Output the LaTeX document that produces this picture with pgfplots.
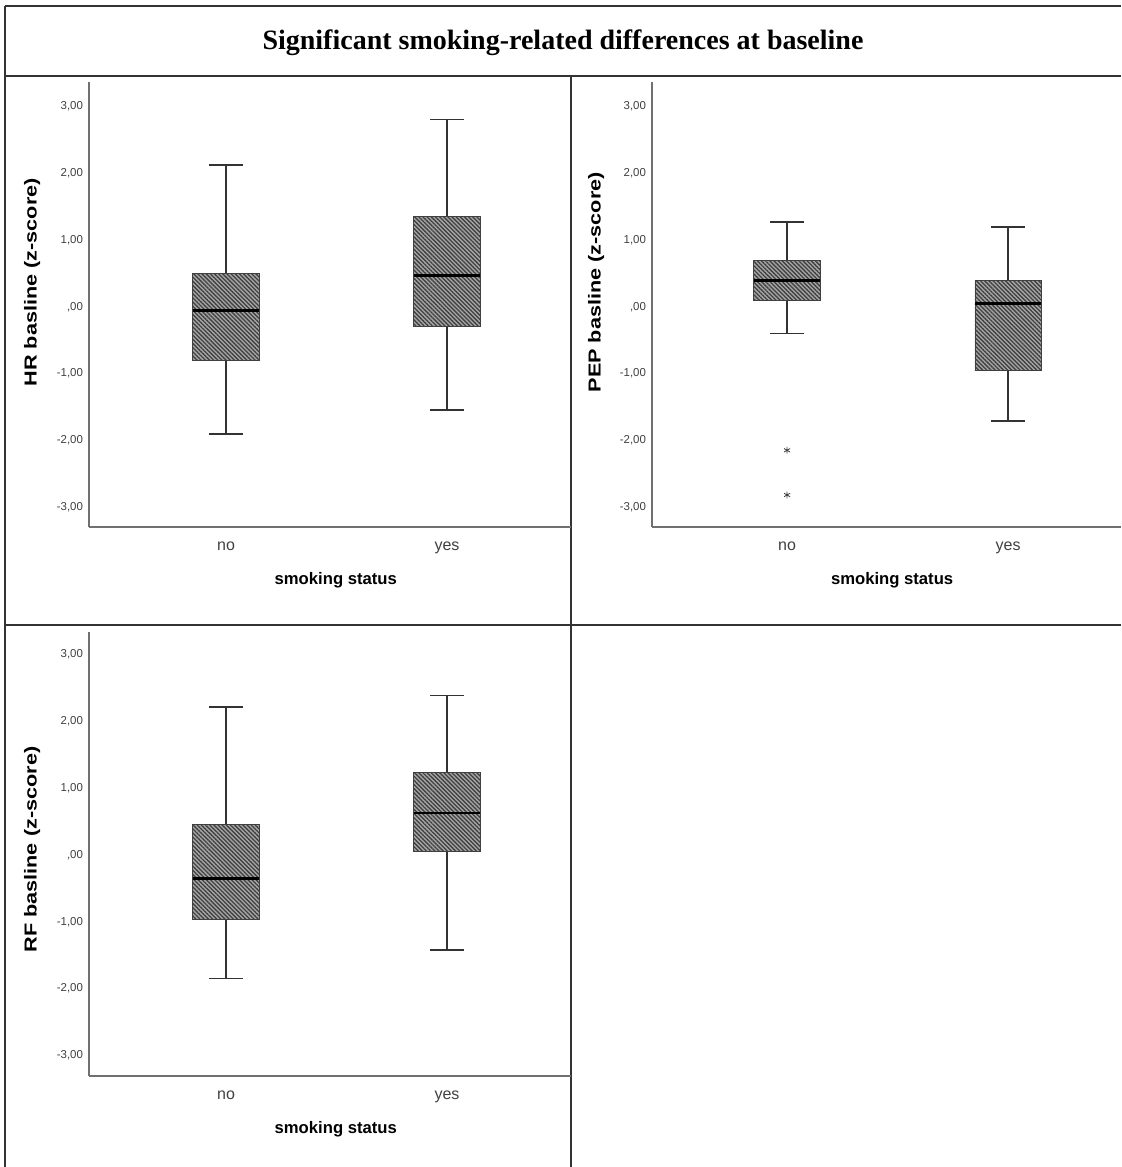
\documentclass[border=0pt]{standalone}
\usepackage{fontspec}
\setmainfont{Liberation Sans}
\newfontfamily\titlefont{Liberation Serif}
\usepackage{graphicx}
\usepackage{pgfplots}
\pgfplotsset{compat=1.18}
\usepgfplotslibrary{statistics}
\usetikzlibrary{patterns.meta}

\definecolor{framec}{HTML}{333333}
\definecolor{axc}{HTML}{707070}
\definecolor{tickc}{HTML}{404040}

\pgfplotsset{
 spssbox/.style={
  scale only axis, anchor=south west,
  axis x line*=bottom, axis y line*=left,
  axis line style={axc, line width=0.8pt, -},
  major tick length=0pt,
  xtick={1,2}, xticklabels={no,yes},
  ytick={-3,-2,-1,0,1,2,3},
  yticklabels={{-3,00},{-2,00},{-1,00},{,00},{1,00},{2,00},{3,00}},
  y tick label style={font=\fontsize{8.6}{10}\selectfont, text=tickc, anchor=east, xshift=-1pt},
  x tick label style={font=\fontsize{12}{14}\selectfont, text=tickc, anchor=base, yshift=-17.5pt},
  xlabel={smoking status},
  xlabel style={font=\bfseries\fontsize{12.5}{15}\selectfont, at={(axis description cs:0.512,0)}, anchor=base, yshift=-43pt},
  ylabel style={font=\bfseries\fontsize{13}{15}\selectfont, at={(axis description cs:-0.118,0.55)}, anchor=center},
  clip=false,
  boxplot/draw direction=y,
  boxplot/box extend=0.3,
  boxplot/whisker extend=0.15,
  boxplot/every box/.style={draw=black!75, line width=0.6pt, fill=gray!70, postaction={pattern={Lines[angle=-45,distance=2.2pt,line width=1pt]}, pattern color=black!75}},
  boxplot/every median/.style={black, line width=2pt},
  boxplot/every whisker/.style={black!80, line width=1.2pt},
 }
}

\begin{document}
\begin{tikzpicture}
\useasboundingbox (0,0) rectangle (840.75pt,-875.25pt);
\begin{scope}[x=0.75pt,y=-0.75pt]
\draw[framec, line width=1.4pt] (5,6) -- (1121,6);
\draw[framec, line width=1.4pt] (5,6) -- (5,1167);
\draw[framec, line width=1.4pt] (5,76) -- (1121,76);
\draw[framec, line width=1.4pt] (571,76) -- (571,1167);
\draw[framec, line width=1.4pt] (5,625) -- (1121,625);
\node[font=\titlefont\bfseries\fontsize{21}{24}\selectfont] at (563,43) {Significant smoking-related differences at baseline};
\end{scope}

% Panel 1: HR
\begin{axis}[spssbox, at={(66.75pt,-395.25pt)}, width=361.5pt, height=333.75pt,
  xmin=0.38, xmax=2.561, ymin=-3.30, ymax=3.37,
  ylabel={\scalebox{1.25}[1]{HR basline (z-score)}}]
\addplot[black!80, boxplot prepared={draw position=1, lower whisker=-1.91, lower quartile=-0.81, median=-0.05, upper quartile=0.50, upper whisker=2.13}] coordinates {};
\addplot[black!80, boxplot prepared={draw position=2, lower whisker=-1.55, lower quartile=-0.30, median=0.47, upper quartile=1.36, upper whisker=2.81}] coordinates {};
\end{axis}

% Panel 2: PEP
\begin{axis}[spssbox, at={(489pt,-395.25pt)}, width=351.75pt, height=333.75pt,
  xmin=0.389, xmax=2.511, ymin=-3.30, ymax=3.37,
  ylabel style={at={(axis description cs:-0.119,0.55)}},
  ylabel={\scalebox{1.25}[1]{PEP basline (z-score)}}]
\addplot[black!80, mark=asterisk, mark size=2.6pt, mark options={black!75, line width=0.6pt}, boxplot prepared={draw position=1, lower whisker=-0.40, lower quartile=0.10, median=0.39, upper quartile=0.70, upper whisker=1.27}] table[row sep=\\, y index=0] {data\\ -2.15\\ -2.82\\};
\addplot[black!80, boxplot prepared={draw position=2, lower whisker=-1.71, lower quartile=-0.96, median=0.05, upper quartile=0.40, upper whisker=1.20}] coordinates {};
\end{axis}

% Panel 3: RF
\begin{axis}[spssbox, at={(66.75pt,-807pt)}, width=361.5pt, height=333pt,
  xmin=0.38, xmax=2.561, ymin=-3.31, ymax=3.34,
  ylabel style={at={(axis description cs:-0.118,0.51)}},
  ylabel={\scalebox{1.25}[1]{RF basline (z-score)}}]
\addplot[black!80, boxplot prepared={draw position=1, lower whisker=-1.85, lower quartile=-0.97, median=-0.35, upper quartile=0.46, upper whisker=2.22}] coordinates {};
\addplot[black!80, boxplot prepared={draw position=2, lower whisker=-1.42, lower quartile=0.05, median=0.63, upper quartile=1.24, upper whisker=2.39}] coordinates {};
\end{axis}
\end{tikzpicture}
\end{document}
